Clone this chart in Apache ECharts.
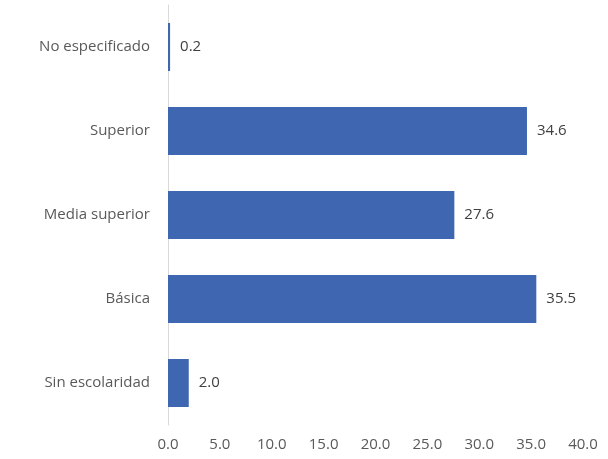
<!DOCTYPE html>
<html><head><meta charset="utf-8">
<script src="https://cdn.jsdelivr.net/npm/echarts@6/dist/echarts.min.js"></script>
<style>html,body{margin:0;padding:0;background:#fff}#c{width:608px;height:459px}</style>
</head><body><div id="c"></div>
<script>
const categories = ["Sin escolaridad", "Básica", "Media superior", "Superior", "No especificado"];
const values = [2.0, 35.5, 27.6, 34.6, 0.2];
const xTicks = [0, 5, 10, 15, 20, 25, 30, 35, 40];

const chart = echarts.init(document.getElementById('c'));
chart.setOption({
  animation: false,
  textStyle: { fontFamily: 'Open Sans' },
  grid: { left: 168, right: 25, top: 5, bottom: 34, containLabel: false },
  xAxis: {
    type: 'value', min: xTicks[0], max: xTicks[xTicks.length - 1], interval: 5,
    axisLine: { show: false }, axisTick: { show: false }, splitLine: { show: false },
    axisLabel: { color: '#595959', fontSize: 15, margin: 12, formatter: v => v.toFixed(1) }
  },
  yAxis: {
    type: 'category', data: categories,
    axisLine: { show: true, lineStyle: { color: '#d9d9d9', width: 1 } },
    axisTick: { show: false },
    axisLabel: { color: '#595959', fontSize: 15, margin: 18 }
  },
  series: [{
    type: 'bar', data: values, barWidth: 48,
    itemStyle: { color: '#3f67b1' },
    label: { show: true, position: 'right', distance: 10, color: '#404040', fontSize: 15, formatter: p => p.value.toFixed(1) }
  }]
});
</script></body></html>
